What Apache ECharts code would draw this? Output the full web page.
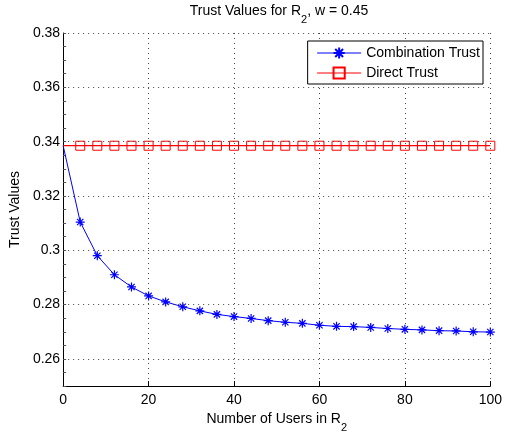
<!DOCTYPE html>
<html>
<head>
<meta charset="utf-8">
<script src="https://cdn.jsdelivr.net/npm/echarts@6/dist/echarts.min.js"></script>
<style>
html,body{margin:0;padding:0;background:#fff;}
#chart{width:505px;height:438px;}
</style>
</head>
<body>
<div id="chart"></div>
<script>
const xValues = [0, 4, 8, 12, 16, 20, 24, 28, 32, 36, 40, 44, 48, 52, 56, 60, 64, 68, 72, 76, 80, 84, 88, 92, 96, 100];
const combinationTrust = [0.3385, 0.3104, 0.2980, 0.2910, 0.2865, 0.2832, 0.2810, 0.2792, 0.2777, 0.2764, 0.2756, 0.2749, 0.2741, 0.2735, 0.2731, 0.2724, 0.2720, 0.2719, 0.2716, 0.2712, 0.2709, 0.2707, 0.2704, 0.2703, 0.2700, 0.2699];
const directTrust = [0.3385, 0.3385, 0.3385, 0.3385, 0.3385, 0.3385, 0.3385, 0.3385, 0.3385, 0.3385, 0.3385, 0.3385, 0.3385, 0.3385, 0.3385, 0.3385, 0.3385, 0.3385, 0.3385, 0.3385, 0.3385, 0.3385, 0.3385, 0.3385, 0.3385, 0.3385];
const seriesNames = ['Combination Trust', 'Direct Trust'];
const yTickLabels = ['0.26', '0.28', '0.3', '0.32', '0.34', '0.36', '0.38'];

const FONT = 'Liberation Sans, Arial, sans-serif';
const starPath = 'path://M5,0L5,10M0,5L10,5M1.5,1.5L8.5,8.5M1.5,8.5L8.5,1.5';

function toData(vals) {
  return xValues.map((x, i) => (i === 0 ? { value: [x, vals[i]], symbol: 'none' } : [x, vals[i]]));
}

const subRich = {
  a: { fontFamily: FONT, fontSize: 14, fontWeight: 'normal', color: '#000', lineHeight: 16, verticalAlign: 'top' },
  s: { fontFamily: FONT, fontSize: 11, fontWeight: 'normal', color: '#000', lineHeight: 12, verticalAlign: 'top', padding: [10, 0, 0, 0] }
};

const chart = echarts.init(document.getElementById('chart'), null, { renderer: 'canvas' });
chart.setOption({
  animation: false,
  backgroundColor: '#fff',
  textStyle: { fontFamily: FONT },
  title: {
    text: '{a|Trust Values for R}{s|2}{a|, w = 0.45}',
    left: 279, top: 4, padding: 0, textAlign: 'center',
    textStyle: { fontWeight: 'normal', rich: subRich }
  },
  legend: {
    orient: 'vertical',
    right: 22, top: 41,
    padding: [5, 3, 4, 9],
    itemWidth: 44, itemHeight: 14, itemGap: 6,
    backgroundColor: '#fff',
    borderColor: '#000', borderWidth: 1, borderRadius: 0,
    lineStyle: { width: 1 },
    textStyle: { fontFamily: FONT, fontSize: 14, color: '#000' },
    data: seriesNames
  },
  grid: { left: 63, right: 14, top: 33, bottom: 48, containLabel: false },
  xAxis: {
    type: 'value', min: 0, max: 100, interval: 20,
    name: '{a|Number of Users in R}{s|2}',
    nameLocation: 'middle', nameGap: 22,
    nameTextStyle: { rich: subRich },
    axisLine: { show: true, onZero: false, lineStyle: { color: '#000', width: 1 } },
    axisTick: { show: true, inside: true, length: 5, lineStyle: { color: '#000' } },
    axisLabel: { fontFamily: FONT, fontSize: 14, color: '#000', margin: 7 },
    splitLine: { show: true, lineStyle: { color: '#444', type: [1, 4], width: 1 } }
  },
  yAxis: {
    type: 'value', min: 0.25, max: 0.38, interval: 0.01,
    name: 'Trust Values',
    nameLocation: 'middle', nameGap: 36,
    nameTextStyle: { fontFamily: FONT, fontSize: 14, color: '#000' },
    axisLine: { show: true, onZero: false, lineStyle: { color: '#000', width: 1 } },
    axisTick: { show: true, inside: true, length: 3, lineStyle: { color: '#555' } },
    minorTick: { show: true, splitNumber: 2, length: 3, lineStyle: { color: '#555' } },
    axisLabel: {
      fontFamily: FONT, fontSize: 14, color: '#000', margin: 3,
      formatter: function (v) {
        const s = String(parseFloat(v.toFixed(2)));
        return yTickLabels.indexOf(s) >= 0 ? s : '';
      }
    },
    splitLine: { show: false }
  },
  series: [
    {
      name: seriesNames[0], type: 'line', data: toData(combinationTrust),
      symbol: starPath, symbolSize: 9,
      lineStyle: { color: '#0000ff', width: 1 },
      itemStyle: { color: '#0000ff', borderColor: '#0000ff', borderWidth: 1.2 },
      z: 3
    },
    {
      name: seriesNames[1], type: 'line', data: toData(directTrust),
      symbol: 'rect', symbolSize: 9,
      lineStyle: { color: '#ff0000', width: 1.2 },
      itemStyle: { color: 'rgba(0,0,0,0)', borderColor: '#ff0000', borderWidth: 1 },
      z: 2,
      markLine: {
        silent: true, symbol: 'none', label: { show: false },
        lineStyle: { color: '#444', type: [1, 4], width: 1 },
        data: yTickLabels.map(t => ({ yAxis: parseFloat(t) }))
      }
    }
  ]
});
</script>
</body>
</html>
